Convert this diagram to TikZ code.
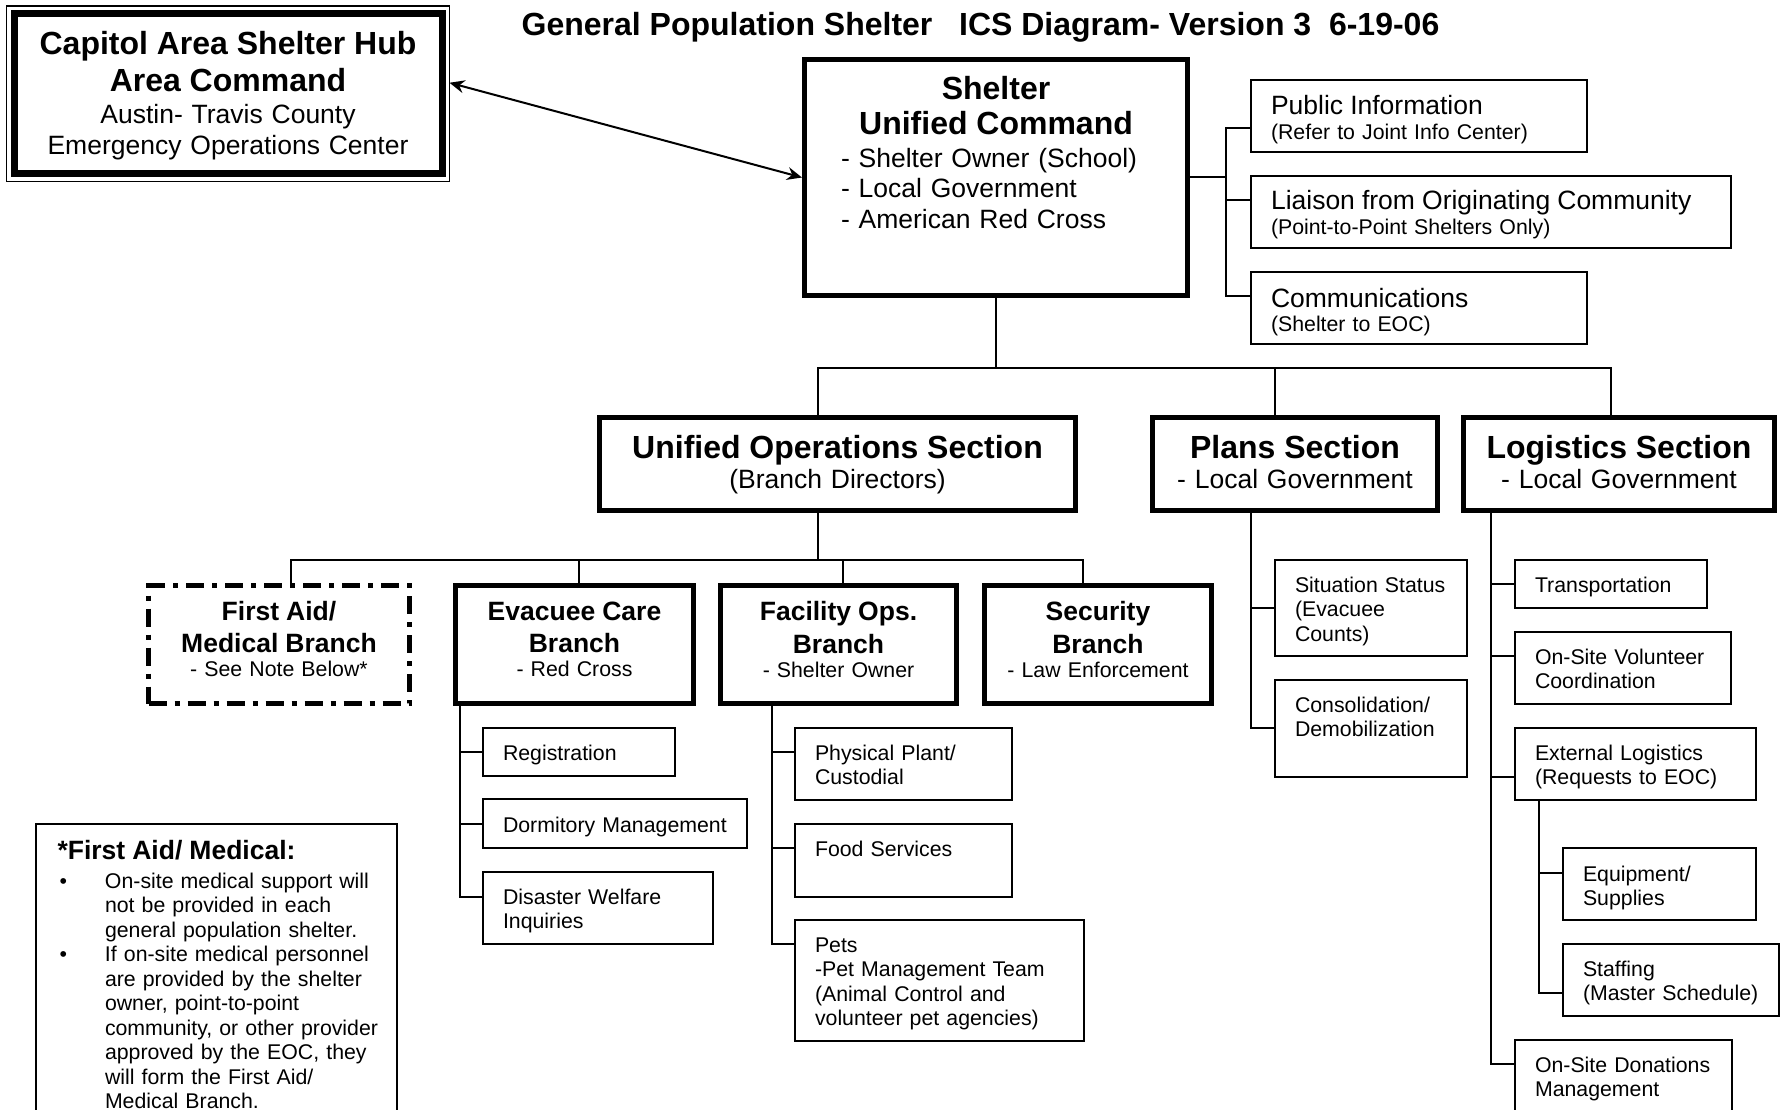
\documentclass[tikz,border=0pt]{standalone}
\usepackage{fontspec}
\setmainfont{Liberation Sans}
\usepackage{tikz}
\usetikzlibrary{arrows.meta}
\newcommand{\fbig}{\fontsize{32}{35}\selectfont\bfseries}
\newcommand{\fmid}{\fontsize{26.5}{30.5}\selectfont}
\newcommand{\fmidb}{\fontsize{26.5}{30.5}\selectfont\bfseries}
\newcommand{\fsmall}{\fontsize{21.3}{24.5}\selectfont}

\begin{document}
\begin{tikzpicture}[x=1pt,y=-1pt,
    conn/.style={line width=2pt},
    thickbox/.style={draw,line width=5pt,anchor=north west,inner sep=0pt,outer sep=0pt,align=center},
    dashbox/.style={thickbox,dash pattern=on 18pt off 8pt on 5pt off 8pt},
    thinbox/.style={draw,line width=2pt,anchor=north west,inner xsep=20pt,inner ysep=0pt,outer sep=0pt,align=left,font=\fsmall}]
\fill[white] (0,0) rectangle (1780,1110);
\useasboundingbox (0,0) rectangle (1780,1110);

\node[anchor=base,font=\fbig] (title) at (980.5,35.5) {General Population Shelter\hspace{17.8pt} ICS Diagram- Version 3\hspace{8.9pt} 6-19-06};

\node[draw,line width=1.5pt,anchor=north west,inner sep=0pt,outer sep=0pt,align=center,font=\fmid,text width=443pt,text height=49pt,text depth=126.5pt] (hub) at (6.5,6) {{\fbig Capitol Area Shelter Hub}\\[6pt]{\fbig Area Command}\\[2pt]Austin- Travis County\\Emergency Operations Center};
\draw[line width=7pt] ([shift={(7.5,7.5)}]hub.north west) rectangle ([shift={(-7.5,-7.5)}]hub.south east);

\node[thickbox,font=\fmid,text width=383pt,text height=40.5pt,text depth=195.5pt] (uc) at (804.5,59.5) {{\fbig Shelter}\\[4.5pt]{\fbig Unified Command}\\[2pt]\makebox[310pt][l]{- Shelter Owner (School)}\\\makebox[310pt][l]{- Local Government}\\\makebox[310pt][l]{- American Red Cross}};
\draw[conn,{Stealth[length=15pt,width=13pt,inset=5pt]}-{Stealth[length=15pt,width=13pt,inset=5pt]}] ([yshift=11pt]hub.east) -- ([xshift=-2.5pt]uc.west);

\node[thinbox,text width=296pt,text height=35pt,text depth=37pt] (pub) at (1251,80) {{\fmid Public Information}\\(Refer to Joint Info Center)};
\node[thinbox,text width=440pt,text height=34pt,text depth=38pt] (liai) at (1251,176) {{\fmid Liaison from Originating Community}\\(Point-to-Point Shelters Only)};
\node[thinbox,text width=296pt,text height=35pt,text depth=37pt] (comms) at (1251,272) {{\fmid Communications}\\(Shelter to EOC)};
\coordinate (staffbus) at (1226,177.5);
\draw[conn] (uc.east) -- (staffbus);
\draw[conn] ([yshift=-48pt]pub.north west) -| (staffbus);
\draw[conn] ([yshift=-24pt]liai.north west) -| (staffbus);
\draw[conn] ([yshift=-24pt]comms.north west) -| (staffbus);

\node[thickbox,font=\fmid,text width=476pt,text height=40.5pt,text depth=52.5pt] (ops) at (599.5,417.5) {{\fbig Unified Operations Section}\\(Branch Directors)};
\node[thickbox,font=\fmid,text width=285pt,text height=40.5pt,text depth=52.5pt] (plans) at (1152.5,417.5) {{\fbig Plans Section}\\- Local Government};
\node[thickbox,font=\fmid,text width=311pt,text height=40.5pt,text depth=52.5pt] (logi) at (1463.5,417.5) {{\fbig Logistics Section}\\- Local Government};
\coordinate (secbus) at (996,368);
\draw[conn] (uc.south) -- (secbus);
\draw[conn] ([xshift=-19.5pt]ops.north) |- (secbus) -| ([xshift=-8pt]logi.north);
\draw[conn] ([xshift=-20pt]plans.north) |- (secbus);

\node[dashbox,font=\fsmall,text width=261pt,text height=34.5pt,text depth=83.5pt] (aid) at (148.5,585.5) {{\fmidb First Aid/}\\[7.5pt]{\fmidb Medical Branch}\\- See Note Below*};
\node[thickbox,font=\fsmall,text width=238pt,text height=34.5pt,text depth=83.5pt] (evac) at (455.5,585.5) {{\fmidb Evacuee Care}\\[7.5pt]{\fmidb Branch}\\- Red Cross};
\node[thickbox,font=\fsmall,text width=236pt,text height=34.5pt,text depth=83.5pt] (fac) at (720.5,585.5) {{\fmidb Facility Ops.}\\[7.5pt]{\fmidb Branch}\\- Shelter Owner};
\node[thickbox,font=\fsmall,text width=227pt,text height=34.5pt,text depth=83.5pt] (sec) at (984.5,585.5) {{\fmidb Security}\\[7.5pt]{\fmidb Branch}\\- Law Enforcement};
\coordinate (brbus) at (818,560);
\draw[conn] ([xshift=-19.5pt]ops.south) -- (brbus);
\draw[conn] ([xshift=12pt]aid.north) |- (brbus) -| ([xshift=-15pt]sec.north);
\draw[conn] ([xshift=4.5pt]evac.north) |- (brbus);
\draw[conn] ([xshift=4.5pt]fac.north) |- (brbus);

\node[thinbox,text width=152pt,text height=32pt,text depth=16pt] (reg) at (483,728) {Registration};
\node[thinbox,text width=224pt,text height=33pt,text depth=16pt] (dorm) at (483,799) {Dormitory Management};
\node[thinbox,text width=190pt,text height=32pt,text depth=40pt] (welf) at (483,872) {Disaster Welfare\\Inquiries};
\coordinate (evbus) at ([xshift=4.5pt]evac.south west);
\draw[conn] (evbus) |- ([yshift=-25pt]welf.north west);
\draw[conn] ([yshift=-24pt]reg.north west) -| (evbus);
\draw[conn] ([yshift=-25pt]dorm.north west) -| (evbus);

\node[thinbox,text width=177pt,text height=32pt,text depth=40pt] (plant) at (795,728) {Physical Plant/\\Custodial};
\node[thinbox,text width=177pt,text height=32pt,text depth=41pt] (food) at (795,824) {Food Services};
\node[thinbox,text width=249pt,text height=32pt,text depth=89pt] (pets) at (795,920) {Pets\\-Pet Management Team\\(Animal Control and\\volunteer pet agencies)};
\coordinate (fcbus) at ([xshift=51.5pt]fac.south west);
\draw[conn] (fcbus) |- ([yshift=-24pt]pets.north west);
\draw[conn] ([yshift=-24pt]plant.north west) -| (fcbus);
\draw[conn] ([yshift=-24pt]food.north west) -| (fcbus);

\node[thinbox,text width=152pt,text height=32pt,text depth=64pt] (sitst) at (1275,560) {Situation Status\\(Evacuee\\Counts)};
\node[thinbox,text width=152pt,text height=32pt,text depth=65pt] (consol) at (1275,680) {Consolidation/\\Demobilization};
\coordinate (plbus) at ([xshift=98.5pt]plans.south west);
\draw[conn] (plbus) |- ([yshift=-48pt]consol.north west);
\draw[conn] ([yshift=-48pt]sitst.north west) -| (plbus);

\node[thinbox,text width=152pt,text height=32pt,text depth=16pt] (transp) at (1515,560) {Transportation};
\node[thinbox,text width=176pt,text height=32pt,text depth=40pt] (volun) at (1515,632) {On-Site Volunteer\\Coordination};
\node[thinbox,text width=201pt,text height=32pt,text depth=40pt] (extlog) at (1515,728) {External Logistics\\(Requests to EOC)};
\node[thinbox,text width=153pt,text height=33pt,text depth=39pt] (equip) at (1563,848) {Equipment/\\Supplies};
\node[thinbox,text width=176pt,text height=32pt,text depth=40pt] (staffing) at (1563,944) {Staffing\\(Master Schedule)};
\node[thinbox,text width=177pt,text height=32pt,text depth=58pt] (donat) at (1515,1040) {On-Site Donations\\Management};
\coordinate (lgbus) at ([xshift=27.5pt]logi.south west);
\draw[conn] (lgbus) |- ([yshift=-24pt]donat.north west);
\draw[conn] ([yshift=-24pt]transp.north west) -| (lgbus);
\draw[conn] ([yshift=-24pt]volun.north west) -| (lgbus);
\draw[conn] ([yshift=-49pt]extlog.north west) -| (lgbus);
\coordinate (exbus) at ([xshift=24pt]extlog.south west);
\draw[conn] (exbus) |- ([yshift=-49pt]staffing.north west);
\draw[conn] ([yshift=-25pt]equip.north west) -| (exbus);

\node[thinbox,inner xsep=21.5pt,text width=318pt,text height=35pt,text depth=276pt] (note) at (36,824) {{\fmidb *First Aid/ Medical:}\\[4.5pt]
\hspace*{2pt}\makebox[45.5pt][l]{\textbullet}\mbox{On-site medical support will}\\
\hspace*{47.5pt}\mbox{not be provided in each}\\
\hspace*{47.5pt}\mbox{general population shelter.}\\
\hspace*{2pt}\makebox[45.5pt][l]{\textbullet}\mbox{If on-site medical personnel}\\
\hspace*{47.5pt}\mbox{are provided by the shelter}\\
\hspace*{47.5pt}\mbox{owner, point-to-point}\\
\hspace*{47.5pt}\mbox{community, or other provider}\\
\hspace*{47.5pt}\mbox{approved by the EOC, they}\\
\hspace*{47.5pt}\mbox{will form the First Aid/}\\
\hspace*{47.5pt}\mbox{Medical Branch.}};
\end{tikzpicture}
\end{document}
